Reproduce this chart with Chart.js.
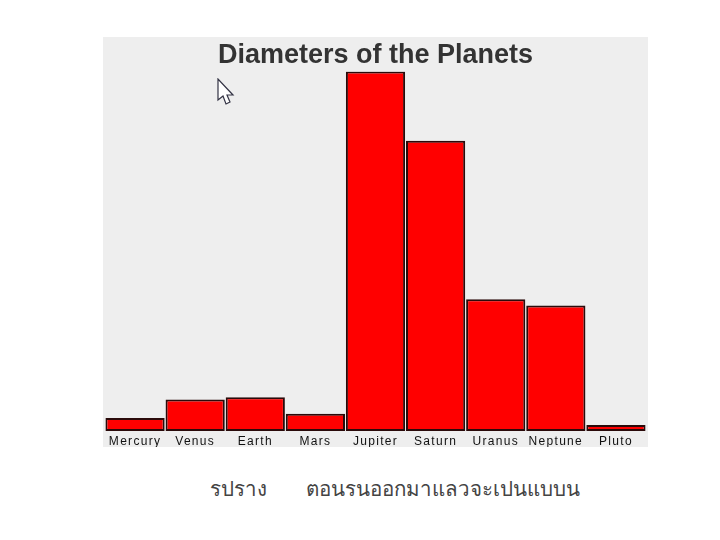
<!DOCTYPE html>
<html lang="th">

<head>
  <meta charset="UTF-8">
  <title>Diameters of the Planets</title>
  <script src="https://cdn.jsdelivr.net/npm/chart.js"></script>
  <style>
    body {
      margin: 0;
      background: #fff;
    }

    #wrap {
      position: absolute;
      left: 103px;
      top: 37px;
      width: 545px;
      height: 410px;
      background: #eeeeee;
    }

    .caption {
      position: absolute;
      top: 472px;
      font-family: 'Noto Sans', 'DejaVu Sans', sans-serif;
      font-size: 20.5px;
      line-height: 32px;
      color: #444;
      white-space: nowrap;
    }

    #cursor {
      position: absolute;
      left: 216px;
      top: 78px;
    }
  </style>
</head>

<body>
  <div id="wrap"><canvas id="planetChart" width="545" height="410"></canvas></div>
  <svg id="cursor" width="19" height="28" viewBox="0 0 19 28">
    <path d="M2 1 L2 22 L7 18 L10 26 L14 24 L11 17 L17 17 Z" fill="#fff" stroke="#334" stroke-width="1.2" />
  </svg>
  <div class="caption" style="left:210px">รปราง</div>
  <div class="caption" style="left:306px">ตอนรนออกมาแลวจะเปนแบบน</div>
  <script>
    const planets = ['Mercury', 'Venus', 'Earth', 'Mars', 'Jupiter', 'Saturn', 'Uranus', 'Neptune', 'Pluto'];
    const diameters = [5200, 12500, 13400, 6900, 142984, 115400, 52400, 49900, 2370];
    const axisMax = 143000;

    // spaced out tick labels like the original applet, x labels draw after the bars
    const spacedLabels = {
      id: 'spacedLabels',
      beforeDraw(chart) {
        chart.ctx.letterSpacing = '0px';
      },
      afterDatasetsDraw(chart) {
        chart.ctx.letterSpacing = '1.3px';
      }
    };

    new Chart(document.getElementById('planetChart').getContext('2d'), {
      type: 'bar',
      data: {
        labels: planets,
        datasets: [{
          data: diameters,
          backgroundColor: '#ff0000',
          borderColor: '#2a0a0a',
          borderWidth: 2,
          borderSkipped: false,
          barPercentage: 0.985,
          categoryPercentage: 1
        }]
      },
      options: {
        responsive: false,
        animation: false,
        layout: { padding: { left: 2, right: 2 } },
        plugins: {
          legend: { display: false },
          tooltip: { enabled: false },
          title: {
            display: true,
            text: 'Diameters of the Planets',
            color: '#333333',
            font: { family: "'Liberation Sans', Arial, sans-serif", size: 27, weight: 'bold' },
            padding: { top: 2, bottom: 0 }
          }
        },
        scales: {
          x: {
            grid: { display: false, drawTicks: false },
            border: { display: false },
            ticks: {
              z: 1,
              color: '#111111',
              padding: 3,
              maxRotation: 0,
              autoSkip: false,
              font: { family: "'Liberation Sans', Arial, sans-serif", size: 12 }
            },
            afterFit(scale) {
              scale.height = 16;
            }
          },
          y: {
            display: false,
            min: 0,
            max: axisMax
          }
        }
      },
      plugins: [spacedLabels]
    });
  </script>
</body>

</html>
